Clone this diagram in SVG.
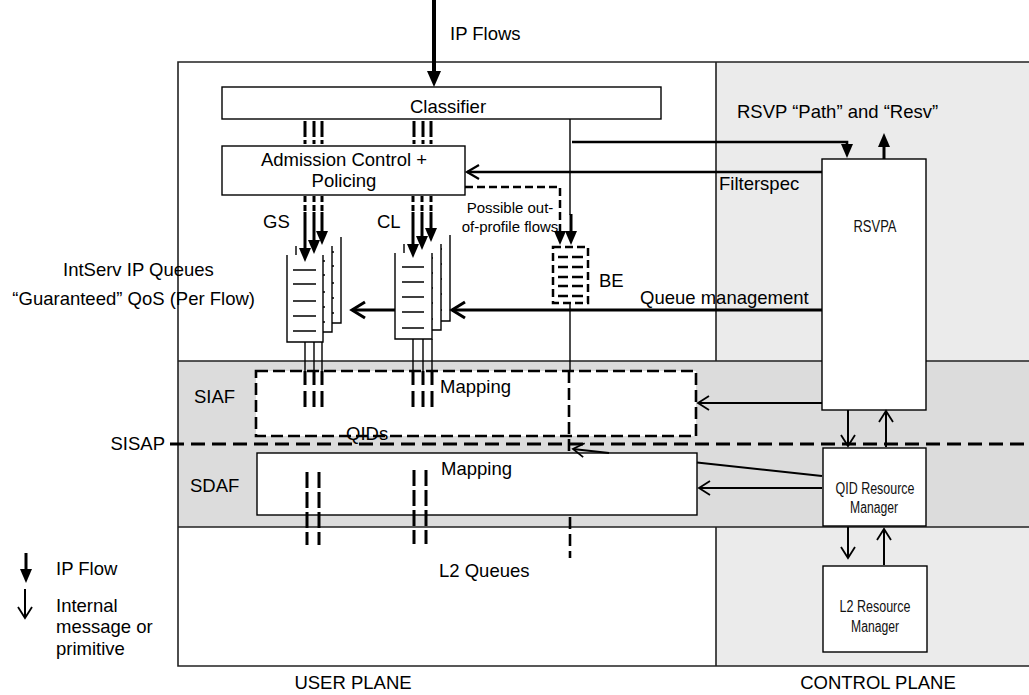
<svg xmlns="http://www.w3.org/2000/svg" width="1029" height="695" viewBox="0 0 1029 695">
<style>
.t{font-family:"Liberation Sans",Arial,sans-serif;font-size:18.5px;fill:#000}
.sm{font-family:"Liberation Sans",Arial,sans-serif;font-size:15px;fill:#000}
.n{font-family:"Liberation Sans Narrow","Liberation Sans",Arial,sans-serif;font-size:16px;fill:#111}
.box{fill:#fff;stroke:#000;stroke-width:1.4}
.q{fill:#fff;stroke:#000;stroke-width:1.4}
.ql{stroke:#000;stroke-width:1.6}
.thin{fill:none;stroke:#000;stroke-width:1.4}
.th{fill:none;stroke:#000;stroke-width:3}
.m{fill:none;stroke:#000;stroke-width:2}
.td{fill:none;stroke:#000;stroke-width:3}
.dsh{fill:none;stroke:#000;stroke-width:2.6;stroke-dasharray:12 5}
</style>
<defs>
<marker id="fa" markerUnits="userSpaceOnUse" markerWidth="16" markerHeight="14" refX="4" refY="7" orient="auto"><path d="M0,0 L16,7 L0,14 z" fill="#000"/></marker>
<marker id="fq" markerUnits="userSpaceOnUse" markerWidth="14" markerHeight="12" refX="4" refY="6" orient="auto"><path d="M0,0 L14,6 L0,12 z" fill="#000"/></marker>
<marker id="oa" markerUnits="userSpaceOnUse" markerWidth="14" markerHeight="16" refX="12" refY="8" orient="auto"><path d="M1,1 L12,8 L1,15" fill="none" stroke="#000" stroke-width="1.8"/></marker>
<marker id="om" markerUnits="userSpaceOnUse" markerWidth="16" markerHeight="16" refX="13" refY="8" orient="auto"><path d="M1,1 L13,8 L1,15" fill="none" stroke="#000" stroke-width="2.2"/></marker>
<marker id="oq" markerUnits="userSpaceOnUse" markerWidth="18" markerHeight="20" refX="15" refY="10" orient="auto"><path d="M2,2 L15,10 L2,18" fill="none" stroke="#000" stroke-width="3"/></marker>
</defs>
<rect width="1029" height="695" fill="#fff"/>
<g id="planes">
<rect x="716" y="62" width="313" height="604" fill="#ebebeb"/>
<rect x="178" y="361" width="851" height="166" fill="#dcdcdc"/>
<path d="M1029,62 H178 V666 H1029" fill="none" stroke="#222" stroke-width="1.6"/>
<path d="M716,62 V361 M716,527 V666 M178,361 H1029 M178,527 H1029" fill="none" stroke="#222" stroke-width="1.6"/>
<path d="M170,444 H1029" fill="none" stroke="#000" stroke-width="3" stroke-dasharray="14 7"/>
</g>
<g id="classifier"><rect class="box" x="222" y="87" width="439" height="32"/><text class="t" x="410" y="113">Classifier</text></g>
<g id="admission"><rect class="box" x="222" y="146" width="243" height="49"/><text class="t" x="344" y="166" text-anchor="middle">Admission Control +</text><text class="t" x="344" y="187" text-anchor="middle">Policing</text></g>
<g id="gs-queues">
<path class="q" d="M305,237 V323 H341 V237"/><path class="ql" d="M311,252 H334 M311,266 H334 M311,283 H334 M311,298 H334 M311,313 H334"/>
<path class="q" d="M296,246 V332 H332 V246"/><path class="ql" d="M302,261 H325 M302,275 H325 M302,292 H325 M302,307 H325 M302,322 H325"/>
<path class="q" d="M287,255 V342 H323 V255"/><path class="ql" d="M293,270 H316 M293,284 H316 M293,301 H316 M293,316 H316 M293,331 H316"/>
</g>
<g id="cl-queues">
<path class="q" d="M413,235 V321 H450 V235"/><path class="ql" d="M420,249 H442 M420,264 H442 M420,279 H442 M420,294 H442 M420,310 H442"/>
<path class="q" d="M404,244 V330 H441 V244"/><path class="ql" d="M411,258 H433 M411,273 H433 M411,288 H433 M411,303 H433 M411,319 H433"/>
<path class="q" d="M395,253 V339 H432 V253"/><path class="ql" d="M402,267 H424 M402,282 H424 M402,297 H424 M402,312 H424 M402,328 H424"/>
</g>
<g id="be-queue">
<rect x="553" y="247" width="35" height="56" fill="#fff" stroke="#000" stroke-width="2.5" stroke-dasharray="8 4"/>
<path d="M558,257 H568 M572,257 H583 M558,267 H568 M572,267 H583 M558,277 H568 M572,277 H583 M558,286 H568 M572,286 H583 M558,296 H568 M572,296 H583" stroke="#000" stroke-width="2.5"/>
</g>
<g id="siaf"><rect x="256" y="371" width="440" height="65" fill="#fff" stroke="#000" stroke-width="2.6" stroke-dasharray="12 5"/><text class="t" x="440" y="393">Mapping</text><text class="t" x="346" y="440">QIDs</text></g>
<g id="sdaf"><rect class="box" x="257" y="453" width="440" height="62"/><text class="t" x="441" y="475">Mapping</text></g>
<g id="rsvpa"><rect class="box" x="822" y="159" width="104" height="251"/><text class="n" x="875" y="232" text-anchor="middle" textLength="43" lengthAdjust="spacingAndGlyphs">RSVPA</text></g>
<g id="qid-rm"><rect class="box" x="823" y="448" width="103" height="78"/><text class="n" x="875" y="494" text-anchor="middle" textLength="79" lengthAdjust="spacingAndGlyphs">QID Resource</text><text class="n" x="874" y="513" text-anchor="middle" textLength="48" lengthAdjust="spacingAndGlyphs">Manager</text></g>
<g id="l2-rm"><rect class="box" x="823" y="566" width="104" height="86"/><text class="n" x="875" y="612" text-anchor="middle" textLength="71" lengthAdjust="spacingAndGlyphs">L2 Resource</text><text class="n" x="875" y="632" text-anchor="middle" textLength="48" lengthAdjust="spacingAndGlyphs">Manager</text></g>
<g id="connectors">
<path d="M434,0 V75" fill="none" stroke="#000" stroke-width="4" marker-end="url(#fa)"/>
<path d="M305,121 V146 M314,121 V146 M322,121 V146 M414,121 V146 M423,121 V146 M431,121 V146" class="td" stroke-dasharray="16 3 4 2"/>
<path d="M305,196 V212 M314,196 V212 M322,196 V212 M413,196 V212 M422,196 V212 M431,196 V212" class="td" stroke-dasharray="6 3"/>
<path class="th" d="M305,212 V252" marker-end="url(#fq)"/>
<path class="th" d="M314,212 V244" marker-end="url(#fq)"/>
<path class="th" d="M322,212 V235" marker-end="url(#fq)"/>
<path class="th" d="M413,212 V248" marker-end="url(#fq)"/>
<path class="th" d="M422,212 V240" marker-end="url(#fq)"/>
<path class="th" d="M431,212 V232" marker-end="url(#fq)"/>
<path class="thin" d="M570,119 V215"/>
<path class="th" d="M571,214 V235" marker-end="url(#fq)"/>
<path d="M465,187 H560 V235" fill="none" stroke="#000" stroke-width="2.5" stroke-dasharray="8 4" marker-end="url(#fq)"/>
<path d="M572,142 H847 V148" fill="none" stroke="#000" stroke-width="2.6" marker-end="url(#fq)"/>
<path d="M884,159 V143" fill="none" stroke="#000" stroke-width="3" marker-end="url(#fq)"/>
<path d="M822,172 H467" fill="none" stroke="#000" stroke-width="2.4" marker-end="url(#om)"/>
<path class="th" d="M822,310 H452" marker-end="url(#oq)"/>
<path class="th" d="M395,310 H352" marker-end="url(#oq)"/>
<path class="thin" d="M570,303 V371"/>
<path class="dsh" d="M569,371 V452"/>
<path class="dsh" d="M570,517 V558"/>
<path class="thin" d="M305,342 V371 M314,342 V371 M322,342 V371 M413,339 V371 M423,339 V371 M432,339 V371"/>
<path class="td" d="M305,371 V385 M314,371 V385 M322,371 V385 M413,371 V385 M423,371 V385 M432,371 V385 M305,391 V407 M314,391 V407 M322,391 V407 M413,391 V407 M423,391 V407 M432,391 V407"/>
<path class="td" d="M307,472 V545 M319,472 V545 M414,470 V544 M426,470 V544" stroke-dasharray="16 4"/>
<path class="m" d="M822,403 H698" marker-end="url(#oa)"/>
<path class="m" d="M822,488 H699" marker-end="url(#oa)"/>
<path class="m" d="M822,476 L697,462.5"/>
<path class="m" d="M609,453 L573,449" marker-end="url(#oa)"/>
<path class="m" d="M848,410 V446" marker-end="url(#oa)"/>
<path class="m" d="M886,447 V411" marker-end="url(#oa)"/>
<path class="m" d="M848,527 V558" marker-end="url(#oa)"/>
<path class="m" d="M884,565 V529" marker-end="url(#oa)"/>
<path d="M26,553 V573" fill="none" stroke="#000" stroke-width="3" marker-end="url(#fq)"/>
<path class="m" d="M25,589 V618" marker-end="url(#oa)"/>
</g>
<g id="labels">
<text class="t" x="450" y="40">IP Flows</text>
<text class="t" x="737" y="118">RSVP “Path” and “Resv”</text>
<text class="t" x="719" y="190">Filterspec</text>
<text class="t" x="263" y="228">GS</text>
<text class="t" x="377" y="228">CL</text>
<text class="sm" x="510" y="213" text-anchor="middle">Possible out-</text>
<text class="sm" x="510" y="232" text-anchor="middle">of-profile flows</text>
<text class="t" x="599" y="287">BE</text>
<text class="t" x="63" y="276">IntServ IP Queues</text>
<text class="t" x="255" y="305" text-anchor="end">“Guaranteed” QoS (Per Flow)</text>
<text class="t" x="640" y="304">Queue management</text>
<text class="t" x="194" y="403">SIAF</text>
<text class="t" x="165" y="450" text-anchor="end">SISAP</text>
<text class="t" x="190" y="492">SDAF</text>
<text class="t" x="439" y="577">L2 Queues</text>
<text class="t" x="56" y="575">IP Flow</text>
<text class="t" x="56" y="612">Internal</text>
<text class="t" x="56" y="633">message or</text>
<text class="t" x="56" y="655">primitive</text>
<text class="t" x="353" y="689" text-anchor="middle">USER PLANE</text>
<text class="t" x="878" y="689" text-anchor="middle">CONTROL PLANE</text>
</g>
</svg>
